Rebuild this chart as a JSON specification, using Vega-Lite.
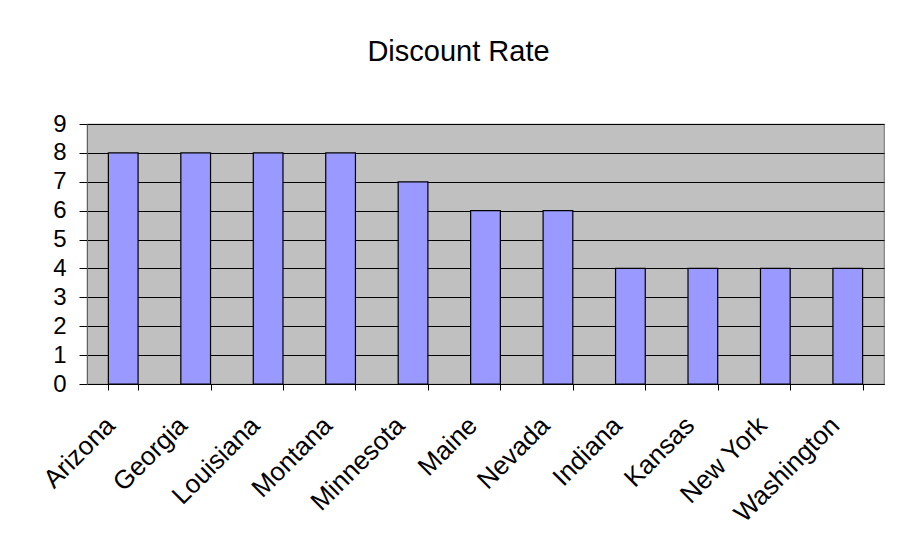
{
  "$schema": "https://vega.github.io/schema/vega-lite/v6.json",
  "width": 797,
  "height": 260,
  "autosize": "none",
  "padding": {"left": 87, "top": 124, "right": 15, "bottom": 164},
  "background": "white",
  "title": {
    "text": "Discount Rate",
    "font": "Liberation Sans",
    "fontSize": 29,
    "fontWeight": "normal",
    "color": "black",
    "anchor": "middle",
    "baseline": "alphabetic",
    "offset": 22,
    "dx": -27
  },
  "data": {
    "values": [
      {"state": "Arizona", "rate": 8},
      {"state": "Georgia", "rate": 8},
      {"state": "Louisiana", "rate": 8},
      {"state": "Montana", "rate": 8},
      {"state": "Minnesota", "rate": 7},
      {"state": "Maine", "rate": 6},
      {"state": "Nevada", "rate": 6},
      {"state": "Indiana", "rate": 4},
      {"state": "Kansas", "rate": 4},
      {"state": "New York", "rate": 4},
      {"state": "Washington", "rate": 4}
    ]
  },
  "mark": {"type": "bar", "fill": "#9999FF", "stroke": "black", "strokeWidth": 1.2},
  "encoding": {
    "x": {
      "field": "state",
      "type": "nominal",
      "sort": null,
      "scale": {"paddingInner": 0.59, "paddingOuter": 0.295},
      "axis": {
        "title": null,
        "labelAngle": -45,
        "labelAlign": "right",
        "labelBaseline": "middle",
        "labelFont": "Liberation Sans",
        "labelFontSize": 26,
        "labelColor": "black",
        "labelPadding": 31,
        "labelOffset": -13,
        "tickBand": "extent",
        "tickSize": 6,
        "tickColor": "black",
        "domainColor": "black",
        "domainWidth": 1.2,
        "grid": false
      }
    },
    "y": {
      "field": "rate",
      "type": "quantitative",
      "scale": {"domain": [0, 9], "nice": false},
      "axis": {
        "title": null,
        "values": [0, 1, 2, 3, 4, 5, 6, 7, 8, 9],
        "labelFont": "Liberation Sans",
        "labelFontSize": 24,
        "labelColor": "black",
        "labelPadding": 13,
        "tickSize": 8,
        "tickColor": "black",
        "domainColor": "#606060",
        "grid": true,
        "gridColor": "black",
        "gridWidth": 1,
        "gridOpacity": 1
      }
    }
  },
  "config": {
    "view": {"fill": "#C0C0C0", "stroke": "#808080", "strokeWidth": 1.2},
    "axis": {"labelFlush": false, "labelOverlap": false}
  }
}
